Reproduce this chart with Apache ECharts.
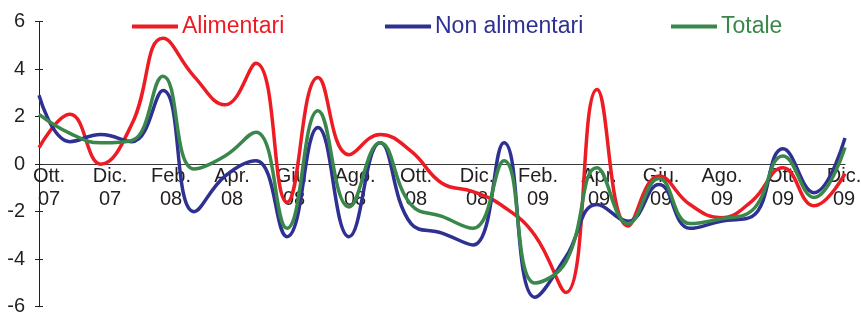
<!DOCTYPE html>
<html>
<head>
<meta charset="utf-8">
<script src="https://cdn.jsdelivr.net/npm/echarts@6/dist/echarts.min.js"></script>
<style>
  html, body { margin: 0; padding: 0; background: #fff; }
  #chart { width: 861px; height: 315px; }
</style>
</head>
<body>
<div id="chart"></div>
<script>
// mesi da Ott. 07 a Dic. 09
var months = ["Ott.", "Nov.", "Dic.", "Gen.", "Feb.", "Mar.", "Apr.", "Mag.", "Giu.", "Lug.", "Ago.", "Set.",
  "Ott.", "Nov.", "Dic.", "Gen.", "Feb.", "Mar.", "Apr.", "Mag.", "Giu.", "Lug.", "Ago.", "Set.",
  "Ott.", "Nov.", "Dic."];
var years = ["07", "07", "07", "08", "08", "08", "08", "08", "08", "08", "08", "08",
  "08", "08", "08", "09", "09", "09", "09", "09", "09", "09", "09", "09",
  "09", "09", "09"];

// valori
var alimentari = [0.7, 2.1, 0.0, 1.7, 5.3, 3.7, 2.5, 4.25, -1.6, 3.65, 0.4, 1.25, 0.55, -0.8,
  -1.15, -1.8, -3.0, -5.4, 3.15, -2.6, -0.5, -1.7, -2.25, -1.55, -0.15, -1.75, -0.4];
var nonAlimentari = [2.9, 0.95, 1.25, 0.95, 3.1, -2.0, -0.5, 0.15, -3.05, 1.55, -3.05, 0.9, -2.5, -2.9,
  -3.4, 0.9, -5.6, -3.9, -1.7, -2.4, -0.85, -2.7, -2.4, -2.2, 0.65, -1.2, 1.1];
var totale = [2.1, 1.3, 0.9, 1.0, 3.7, -0.2, 0.35, 1.35, -2.7, 2.25, -1.8, 0.9, -1.7, -2.2,
  -2.7, 0.15, -5.0, -4.1, -0.15, -2.5, -0.6, -2.5, -2.3, -1.95, 0.35, -1.4, 0.7];

var RED = "#ed1c24";
var BLUE = "#2e3192";
var GREEN = "#39874a";
var TEXT = "#231f20";
var FONT = "Liberation Sans, Arial, sans-serif";

// area del grafico (px)
var TOP = 21.7, BOTTOM = 8.3, H = 315;
var plotH = H - TOP - BOTTOM;

// nell'originale le etichette non stanno esattamente sui punti:
// spostamento orizzontale (px) per ogni etichetta, come padding del rich text
var rich = {};
for (var k = 0; k < 14; k++) {
  var s = Math.round(10 - 0.85 * k);
  rich["p" + k] = {
    fontSize: 20,
    lineHeight: 23,
    color: TEXT,
    fontFamily: FONT,
    padding: s >= 0 ? [0, 0, 0, 2 * s] : [0, -2 * s, 0, 0]
  };
}

var myChart = echarts.init(document.getElementById("chart"));

// una legenda per voce, per posizionarle come nell'originale
function legendAt(name, left, color) {
  return {
    data: [name],
    left: left,
    top: 10,
    icon: "rect",
    itemWidth: 46,
    itemHeight: 4,
    textStyle: { color: color, fontSize: 23, fontFamily: FONT, padding: [0, 0, 0, -1] },
    selectedMode: false
  };
}

function lineSeries(name, data, color) {
  return {
    name: name,
    type: "line",
    data: data,
    smooth: 0.45,
    symbol: "none",
    lineStyle: { color: color, width: 3.5 },
    itemStyle: { color: color }
  };
}

var option = {
  animation: false,
  legend: [
    legendAt("Alimentari", 127, RED),
    legendAt("Non alimentari", 380, BLUE),
    legendAt("Totale", 666, GREEN)
  ],
  grid: { left: 39, right: 16, top: TOP, bottom: BOTTOM, containLabel: false, outerBoundsMode: "none" },
  xAxis: {
    type: "category",
    data: months,
    boundaryGap: false,
    position: "bottom",
    // asse spostato sullo zero (metà altezza, scala -6..6)
    offset: -plotH / 2,
    axisLine: { onZero: false, lineStyle: { color: "#3a3a3a", width: 1 } },
    axisTick: { show: false },
    axisLabel: {
      interval: 1,
      margin: 1,
      formatter: function (value, index) {
        var st = "p" + Math.floor(index / 2);
        return "{" + st + "|" + value + "}\n{" + st + "|" + years[index] + "}";
      },
      rich: rich
    },
    splitLine: { show: false }
  },
  yAxis: [
    {
      type: "value",
      min: -6,
      max: 6,
      interval: 2,
      axisLine: { show: true, lineStyle: { color: TEXT, width: 1 } },
      axisTick: { show: true, length: 4, lineStyle: { color: TEXT } },
      axisLabel: { margin: 14, fontSize: 20, color: TEXT, fontFamily: FONT, padding: [3, 0, 0, 0] },
      splitLine: { show: false }
    },
    {
      // solo tacche interne (tacche incrociate)
      type: "value",
      position: "left",
      min: -6,
      max: 6,
      interval: 2,
      axisLine: { show: false },
      axisTick: { show: true, inside: true, length: 4, lineStyle: { color: TEXT } },
      axisLabel: { show: false },
      splitLine: { show: false }
    }
  ],
  series: [
    lineSeries("Alimentari", alimentari, RED),
    lineSeries("Non alimentari", nonAlimentari, BLUE),
    lineSeries("Totale", totale, GREEN)
  ]
};

myChart.setOption(option);
</script>
</body>
</html>
